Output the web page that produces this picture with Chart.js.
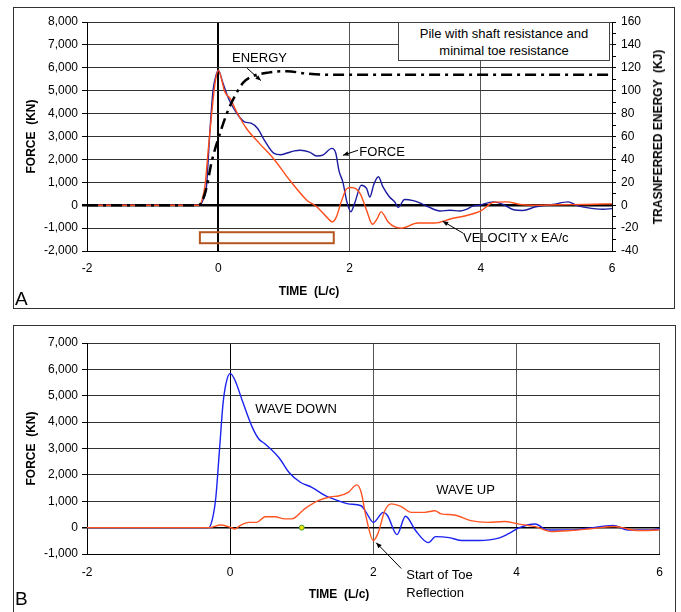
<!DOCTYPE html>
<html>
<head>
<meta charset="utf-8">
<script src="https://cdn.jsdelivr.net/npm/chart.js@4.4.0/dist/chart.umd.min.js"></script>
<style>
  body { margin:0; width:681px; height:612px; overflow:hidden; position:relative; background:#fff;
         font-family:"Liberation Sans", Arial, sans-serif; }
  .frame { position:absolute; box-sizing:border-box; border:1px solid #333; }
  canvas { position:absolute; }
  .tag { position:absolute; font-size:19px; color:#000; }
  .note { position:absolute; box-sizing:border-box; border:1px solid #444; background:#fff;
          font-size:13px; line-height:17px; text-align:center; padding-top:2px; }
  .axt { position:absolute; font-size:12px; font-weight:bold; white-space:pre; line-height:14px; }
</style>
</head>
<body>
<div class="frame" style="left:13px;top:7px;width:662px;height:302px"></div>
<div class="frame" style="left:13px;top:325px;width:663px;height:320px"></div>
<canvas id="topChart" width="660" height="299" style="left:14px;top:8px"></canvas>
<canvas id="botChart" width="660" height="286" style="left:14px;top:326px"></canvas>
<div class="note" style="left:398px;top:22px;width:212px;height:39px">Pile with shaft resistance and<br>minimal toe resistance</div>
<div class="axt" style="left:309px;top:284px;transform:translateX(-50%)">TIME  (L/c)</div>
<div class="axt" style="left:339px;top:587px;transform:translateX(-50%)">TIME  (L/c)</div>
<div class="axt" style="left:658px;top:137px;transform:translate(-50%,-50%) rotate(-90deg)">TRASNFERRED ENERGY  (KJ)</div>
<div class="tag" style="left:15px;top:288px">A</div>
<div class="tag" style="left:15px;top:588px">B</div>
<script>
// Panel A: force and velocity (KN) against time (L/c)
const forceTime = [-2, -0.3, -0.28, -0.23, -0.18, -0.13, -0.08, -0.04, 0, 0.07, 0.15, 0.22, 0.32, 0.4, 0.5, 0.6, 0.7, 0.85, 0.95, 1.05, 1.16, 1.25, 1.39, 1.5, 1.6, 1.73, 1.79, 1.84, 1.9, 1.96, 2.02, 2.08, 2.18, 2.26, 2.31, 2.37, 2.44, 2.51, 2.61, 2.69, 2.74, 2.84, 2.97, 3.07, 3.2, 3.38, 3.53, 3.68, 3.78, 3.88, 3.98, 4.19, 4.34, 4.5, 4.64, 4.84, 5.1, 5.33, 5.47, 5.72, 5.87, 6];
const forceKN = [0, 0, 0, 250, 800, 3100, 5000, 5600, 5900, 5350, 4700, 4300, 3860, 3640, 3580, 3350, 2850, 2260, 2200, 2280, 2370, 2400, 2320, 2150, 2200, 2480, 2280, 1500, 1000, 150, -290, 100, 870, 730, 360, 900, 1240, 800, 360, 140, -100, 250, 200, 100, -70, -250, -220, -250, -180, -40, 0, 145, 30, -200, -230, -70, 30, 145, -20, -150, -180, -150];

const velTime = [-2, -0.3, -0.25, -0.2, -0.15, -0.1, -0.05, 0, 0.1, 0.18, 0.28, 0.43, 0.63, 0.84, 1.09, 1.35, 1.5, 1.65, 1.74, 1.8, 1.88, 1.96, 2.03, 2.16, 2.26, 2.35, 2.42, 2.48, 2.59, 2.69, 2.79, 3.04, 3.3, 3.55, 3.8, 4.0, 4.2, 4.4, 4.6, 4.8, 5.2, 5.6, 6];
const velKN = [0, 0, 200, 900, 2500, 4000, 5300, 5900, 4950, 4660, 4080, 3350, 2690, 2040, 1090, 220, -70, -510, -730, -510, 200, 730, 770, 520, -220, -830, -600, -290, -730, -950, -1000, -780, -780, -590, -440, -250, 130, 145, 30, 0, 20, 30, 60];

// Transferred energy (KJ), right axis
const energyTime = [-2, -0.3, -0.25, -0.18, -0.1, 0, 0.13, 0.25, 0.38, 0.5, 0.78, 1.05, 1.33, 1.6, 2, 3, 4, 5, 6];
const energyKJ = [0, 0, 3, 15, 38, 58, 80, 95, 107, 112, 116, 117, 115, 114, 114, 114, 114, 114, 114];

// Panel B: wave down / wave up (KN)
const downTime = [-2, -0.3, -0.25, -0.2, -0.15, -0.1, -0.06, 0, 0.07, 0.17, 0.31, 0.4, 0.49, 0.68, 0.82, 0.98, 1.14, 1.33, 1.51, 1.65, 1.83, 1.9, 2.0, 2.14, 2.2, 2.33, 2.45, 2.59, 2.77, 2.87, 3.06, 3.24, 3.47, 3.75, 3.89, 4.05, 4.26, 4.44, 4.76, 5.0, 5.35, 5.56, 5.88, 6];
const downKN = [0, 0, 300, 1150, 2920, 4690, 5440, 5850, 5570, 4810, 3800, 3360, 3170, 2660, 2100, 1720, 1530, 1210, 1020, 900, 830, 580, 200, 580, 450, -265, 430, -110, -570, -340, -380, -490, -490, -400, -230, 10, 140, -90, -90, -20, 80, -90, -90, -40];

const upTime = [-2, -0.3, -0.13, -0.02, 0.07, 0.14, 0.26, 0.37, 0.49, 0.63, 0.76, 0.86, 1.04, 1.23, 1.41, 1.51, 1.65, 1.77, 1.83, 1.9, 2.0, 2.07, 2.16, 2.25, 2.39, 2.53, 2.72, 2.86, 2.95, 3.13, 3.36, 3.6, 3.83, 4.02, 4.26, 4.49, 4.76, 5.04, 5.37, 5.69, 6];
const upKN = [0, 0, 100, 30, -50, 80, 200, 200, 415, 415, 330, 330, 710, 1020, 1170, 1200, 1340, 1620, 1340, 390, -490, -180, 640, 900, 800, 580, 580, 640, 520, 480, 265, 200, 230, 140, 40, -150, -110, -40, 40, -110, -90];

const markTime = [1];
const markKN = [0];

Chart.defaults.font.family = '"Liberation Sans", Arial, sans-serif';
Chart.defaults.font.size = 12;
Chart.defaults.color = '#000';

const pts = (xs, ys) => xs.map((x, i) => ({ x, y: ys[i] }));
const fmt = v => v.toLocaleString('en-US');

// labels, arrows and the boxed region, in data units
const notesPlugin = {
  id: 'notes',
  afterDraw(chart, args, opts) {
    const { ctx, scales } = chart;
    const px = t => scales.x.getPixelForValue(t);
    const py = f => scales.y.getPixelForValue(f);
    ctx.save();
    (opts.boxes || []).forEach(b => {
      ctx.strokeStyle = b.color;
      ctx.lineWidth = 2;
      ctx.strokeRect(px(b.t0), py(b.f0), px(b.t1) - px(b.t0), py(b.f1) - py(b.f0));
    });
    (opts.arrows || []).forEach(a => {
      const x1 = px(a.t0), y1 = py(a.f0), x2 = px(a.t1), y2 = py(a.f1);
      ctx.strokeStyle = '#000';
      ctx.fillStyle = '#000';
      ctx.lineWidth = 1;
      ctx.beginPath(); ctx.moveTo(x1, y1); ctx.lineTo(x2, y2); ctx.stroke();
      const ang = Math.atan2(y2 - y1, x2 - x1);
      ctx.beginPath();
      ctx.moveTo(x2, y2);
      ctx.lineTo(x2 - 6 * Math.cos(ang - 0.4), y2 - 6 * Math.sin(ang - 0.4));
      ctx.lineTo(x2 - 6 * Math.cos(ang + 0.4), y2 - 6 * Math.sin(ang + 0.4));
      ctx.closePath(); ctx.fill();
    });
    ctx.font = '13px "Liberation Sans", Arial, sans-serif';
    ctx.textBaseline = 'middle';
    ctx.textAlign = 'left';
    ctx.fillStyle = '#000';
    (opts.labels || []).forEach(l => ctx.fillText(l.text, px(l.t), py(l.f)));
    ctx.restore();
  }
};

const titleFont = { size: 12, weight: 'bold' };

new Chart(document.getElementById('topChart'), {
  type: 'line',
  data: {
    datasets: [
      { label: 'ENERGY', data: pts(energyTime, energyKJ), yAxisID: 'y2', borderColor: '#000',
        borderWidth: 2.5, borderDash: [11, 5, 3, 5], pointRadius: 0, cubicInterpolationMode: 'monotone' },
      { label: 'VELOCITY x EA/c', data: pts(velTime, velKN), borderColor: '#ff4d1a',
        borderWidth: 1.4, pointRadius: 0, cubicInterpolationMode: 'monotone' },
      { label: 'FORCE', data: pts(forceTime, forceKN), borderColor: '#1c1ca0',
        borderWidth: 1.4, pointRadius: 0, cubicInterpolationMode: 'monotone' }
    ]
  },
  options: {
    responsive: false,
    animation: false,
    layout: { padding: { top: 14, right: 0, bottom: 0, left: 0 } },
    plugins: {
      legend: { display: false },
      tooltip: { enabled: false },
      notes: {
        boxes: [{ t0: -0.28, t1: 1.76, f0: -1180, f1: -1660, color: '#b5561f' }],
        arrows: [
          { t0: 0.44, f0: 5980, t1: 0.65, f1: 5440 },
          { t0: 2.13, f0: 2400, t1: 1.9, f1: 2180 },
          { t0: 3.73, f0: -1220, t1: 3.42, f1: -700 }
        ],
        labels: [
          { text: 'ENERGY', t: 0.21, f: 6420 },
          { text: 'FORCE', t: 2.15, f: 2310 },
          { text: 'VELOCITY x EA/c', t: 3.73, f: -1440 }
        ]
      }
    },
    scales: {
      x: {
        type: 'linear', min: -2, max: 6,
        ticks: { stepSize: 2, padding: 10 },
        grid: {
          drawTicks: false,
          color: c => c.tick.value === 0 ? '#000' : '#555',
          lineWidth: c => c.tick.value === 0 ? 2 : 1
        },
        border: { color: '#000', width: 1 },
        afterFit: s => { s.height = 56; }
      },
      y: {
        min: -2000, max: 8000,
        ticks: { stepSize: 1000, padding: 4, callback: fmt },
        grid: {
          tickLength: 5, tickColor: '#000',
          color: c => c.tick.value === 0 ? '#000' : '#333',
          lineWidth: c => c.tick.value === 0 ? 2.5 : 1
        },
        border: { color: '#000', width: 1 },
        title: { display: true, text: 'FORCE  (KN)', font: titleFont, padding: { top: 10, bottom: 0 } },
        afterFit: s => { s.width = 73; }
      },
      y2: {
        position: 'right', min: -40, max: 160,
        ticks: { stepSize: 10, autoSkip: false, padding: 5, callback: v => v % 20 === 0 ? v : '' },
        grid: { drawOnChartArea: false, tickLength: 4, tickColor: '#000' },
        border: { color: '#000', width: 1 },
        afterFit: s => { s.width = 62; }
      }
    }
  },
  plugins: [notesPlugin]
});

new Chart(document.getElementById('botChart'), {
  type: 'line',
  data: {
    datasets: [
      { label: 'marker', data: pts(markTime, markKN), showLine: false, pointRadius: 2.5,
        pointBackgroundColor: '#f5e600', pointBorderColor: '#3a9a3a', pointBorderWidth: 1 },
      { label: 'WAVE UP', data: pts(upTime, upKN), borderColor: '#ff5522',
        borderWidth: 1.4, pointRadius: 0, cubicInterpolationMode: 'monotone' },
      { label: 'WAVE DOWN', data: pts(downTime, downKN), borderColor: '#1a22f0',
        borderWidth: 1.4, pointRadius: 0, cubicInterpolationMode: 'monotone' }
    ]
  },
  options: {
    responsive: false,
    animation: false,
    layout: { padding: { top: 17, right: 11, bottom: 0, left: 0 } },
    plugins: {
      legend: { display: false },
      tooltip: { enabled: false },
      notes: {
        arrows: [{ t0: 2.39, f0: -1550, t1: 2.04, f1: -570 }],
        labels: [
          { text: 'WAVE DOWN', t: 0.35, f: 4470 },
          { text: 'WAVE UP', t: 2.88, f: 1400 },
          { text: 'Start of Toe', t: 2.46, f: -1820 },
          { text: 'Reflection', t: 2.46, f: -2500 }
        ]
      }
    },
    scales: {
      x: {
        type: 'linear', min: -2, max: 6,
        ticks: { stepSize: 2, padding: 11 },
        grid: {
          drawTicks: false,
          color: c => c.tick.value === 0 ? '#000' : '#555',
          lineWidth: 1
        },
        border: { color: '#000', width: 1 },
        afterFit: s => { s.height = 58; }
      },
      y: {
        min: -1000, max: 7000,
        ticks: { stepSize: 1000, padding: 4, callback: fmt },
        grid: {
          tickLength: 5, tickColor: '#000',
          color: c => c.tick.value === 0 ? '#000' : '#333',
          lineWidth: c => c.tick.value === 0 ? 1.5 : 1
        },
        border: { color: '#000', width: 1 },
        title: { display: true, text: 'FORCE  (KN)', font: titleFont, padding: { top: 10, bottom: 0 } },
        afterFit: s => { s.width = 73; }
      }
    }
  },
  plugins: [notesPlugin]
});
</script>
</body>
</html>
